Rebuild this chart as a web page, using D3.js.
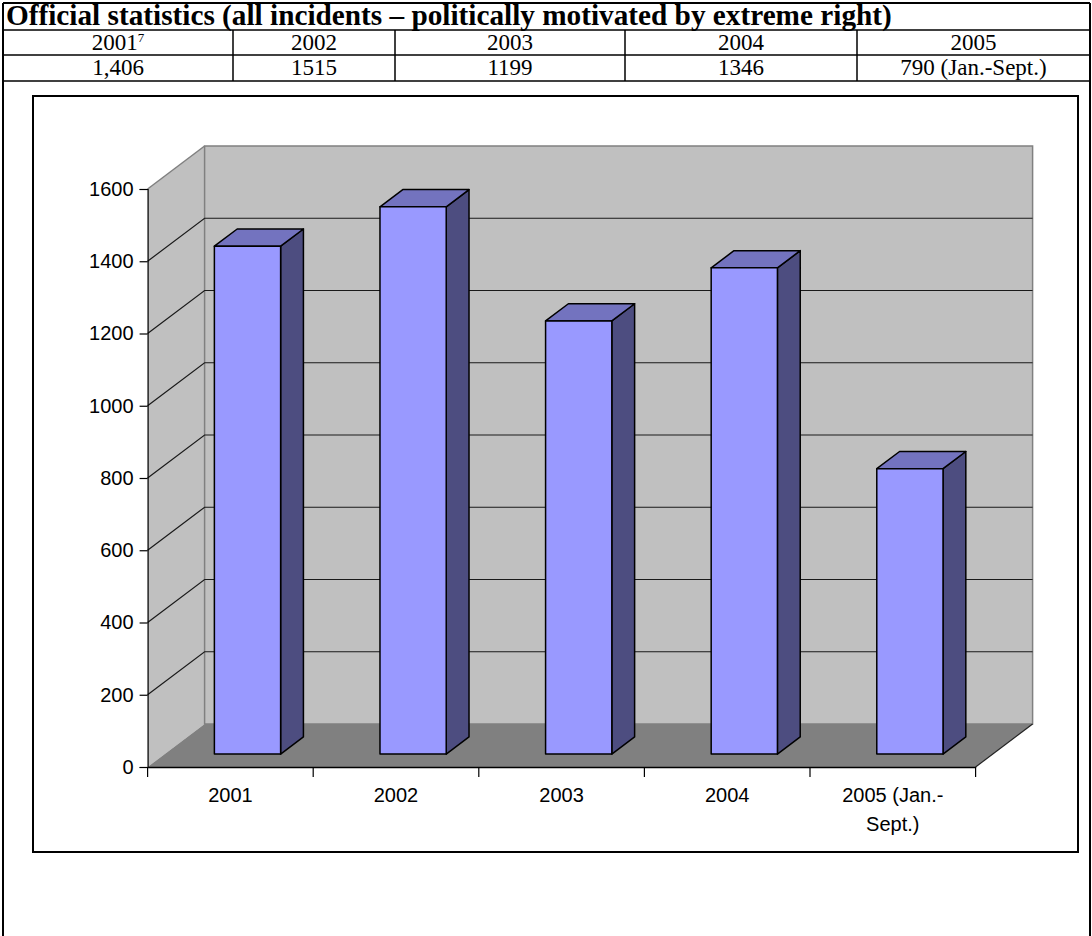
<!DOCTYPE html>
<html>
<head>
<meta charset="utf-8">
<script src="https://cdn.jsdelivr.net/npm/d3@7"></script>
<style>
  html, body { margin: 0; padding: 0; background: #fff; }
  svg { display: block; }
</style>
</head>
<body>
<svg id="chart" width="1092" height="936"></svg>
<script>
// Table contents
const tableTitle = "Official statistics (all incidents \u2013 politically motivated by extreme right)";
const tableYears = ["2001", "2002", "2003", "2004", "2005"];
const tableValues = ["1,406", "1515", "1199", "1346", "790 (Jan.-Sept.)"];

// Chart data
const categories = ["2001", "2002", "2003", "2004", "2005 (Jan.-Sept.)"];
const categoryLabels = [["2001"], ["2002"], ["2003"], ["2004"], ["2005 (Jan.-", "Sept.)"]];
const incidents = [1406, 1515, 1199, 1346, 790];
const yTicks = [0, 200, 400, 600, 800, 1000, 1200, 1400, 1600];

const svg = d3.select("#chart");

// ---------- table ----------
const T = { left: 3, right: 1090, top: 3, rows: [30, 55, 81], bottom: 936 };
const colEdges = [T.left, 233, 395, 625, 857, T.right];

const tbl = svg.append("g").attr("class", "table");
const line = (x1, y1, x2, y2, w) => tbl.append("line")
  .attr("x1", x1).attr("y1", y1).attr("x2", x2).attr("y2", y2)
  .attr("stroke", "#000").attr("stroke-width", w);

line(T.left, T.top, T.right, T.top, 2);
T.rows.forEach(y => line(T.left, y, T.right, y, 1.5));
line(T.left, T.top, T.left, T.bottom, 2);
line(T.right, T.top, T.right, T.bottom, 2);
colEdges.slice(1, -1).forEach(x => line(x, T.rows[0], x, T.rows[2], 1.5));

const serif = "'Liberation Serif', 'Times New Roman', serif";
const titleText = tbl.append("text")
  .attr("x", 6).attr("y", 25)
  .attr("font-family", serif)
  .attr("font-weight", "bold").attr("font-size", 21)
  .text(tableTitle);
// title set in a size that runs it across the cell
const tw = titleText.node().getComputedTextLength();
titleText.attr("font-size", 21 * 886 / tw);

tableYears.forEach((yr, i) => {
  const cx = (colEdges[i] + colEdges[i + 1]) / 2;
  const t = tbl.append("text")
    .attr("x", cx).attr("y", 50)
    .attr("text-anchor", "middle")
    .attr("font-family", serif).attr("font-size", 23);
  t.append("tspan").text(yr);
  if (i === 0) {
    t.append("tspan").attr("font-size", 13).attr("dy", -8).text("7");
  }
});
tableValues.forEach((v, i) => {
  const cx = (colEdges[i] + colEdges[i + 1]) / 2;
  tbl.append("text")
    .attr("x", cx).attr("y", 75)
    .attr("text-anchor", "middle")
    .attr("font-family", serif).attr("font-size", 23)
    .text(v);
});

// ---------- chart frame ----------
svg.append("rect")
  .attr("x", 33).attr("y", 96).attr("width", 1045).attr("height", 756)
  .attr("fill", "#fff").attr("stroke", "#000").attr("stroke-width", 2);

// ---------- 3D column chart ----------
const x = d3.scaleBand().domain(categories).range([147.6, 975.6]).paddingInner(0).paddingOuter(0);
const y = d3.scaleLinear().domain([0, 1600]).range([767, 189]);
const DX = 57, DY = -43;             // projection of full depth
const barWidth = x.bandwidth() / 2.5; // gap width 150%
const dFront = 0.3, dBack = 0.7;      // bar depth position (gap depth 150%)

const pt = (px, py, d) => [px + d * DX, py + d * DY];
const poly = pts => "M" + pts.map(p => p.join(",")).join("L") + "Z";

const xL = x.range()[0], xR = x.range()[1];
const y0 = y(0), yTop = y(1600);

const walls = svg.append("g").attr("class", "walls");
// side wall
walls.append("path")
  .attr("d", poly([pt(xL, yTop, 0), pt(xL, yTop, 1), pt(xL, y0, 1), pt(xL, y0, 0)]))
  .attr("fill", "#c0c0c0");
// back wall
walls.append("path")
  .attr("d", poly([pt(xL, yTop, 1), pt(xR, yTop, 1), pt(xR, y0, 1), pt(xL, y0, 1)]))
  .attr("fill", "#c0c0c0").attr("stroke", "#808080").attr("stroke-width", 1.5);
// floor
walls.append("path")
  .attr("d", poly([pt(xL, y0, 0), pt(xL, y0, 1), pt(xR, y0, 1), pt(xR, y0, 0)]))
  .attr("fill", "#808080");
// side wall top edge
walls.append("line")
  .attr("x1", xL).attr("y1", yTop).attr("x2", xL + DX).attr("y2", yTop + DY)
  .attr("stroke", "#808080").attr("stroke-width", 1.5);
// floor right edge
walls.append("line")
  .attr("x1", xR).attr("y1", y0).attr("x2", xR + DX).attr("y2", y0 + DY)
  .attr("stroke", "#222").attr("stroke-width", 1.2);

// gridlines on side and back walls
const gridVals = yTicks.filter(v => v > 0 && v < 1600);
const grid = svg.append("g").attr("class", "grid");
gridVals.forEach(v => {
  const a = pt(xL, y(v), 0), b = pt(xL, y(v), 1), c = pt(xR, y(v), 1);
  grid.append("path")
    .attr("d", `M${a}L${b}L${c}`)
    .attr("fill", "none").attr("stroke", "#1a1a1a").attr("stroke-width", 1.2);
});

// columns
const bars = svg.append("g").attr("class", "bars")
  .selectAll("g").data(categories.map((c, i) => ({ c, v: incidents[i] })))
  .join("g");

bars.each(function (d) {
  const g = d3.select(this);
  const bx0 = x(d.c) + (x.bandwidth() - barWidth) / 2;
  const bx1 = bx0 + barWidth;
  const yt = y(d.v), yb = y(0);
  // right side face
  g.append("path")
    .attr("d", poly([pt(bx1, yt, dFront), pt(bx1, yt, dBack), pt(bx1, yb, dBack), pt(bx1, yb, dFront)]))
    .attr("fill", "#4d4d80").attr("stroke", "#000").attr("stroke-width", 1.5).attr("stroke-linejoin", "round");
  // top face
  g.append("path")
    .attr("d", poly([pt(bx0, yt, dFront), pt(bx1, yt, dFront), pt(bx1, yt, dBack), pt(bx0, yt, dBack)]))
    .attr("fill", "#7373bf").attr("stroke", "#000").attr("stroke-width", 1.5).attr("stroke-linejoin", "round");
  // front face
  g.append("path")
    .attr("d", poly([pt(bx0, yt, dFront), pt(bx1, yt, dFront), pt(bx1, yb, dFront), pt(bx0, yb, dFront)]))
    .attr("fill", "#9999ff").attr("stroke", "#000").attr("stroke-width", 1.5).attr("stroke-linejoin", "round");
});

// ---------- axes ----------
const sans = "'Liberation Sans', Arial, sans-serif";
const yAxis = svg.append("g").attr("transform", `translate(${xL},0)`)
  .call(d3.axisLeft(y).tickValues(yTicks).tickSize(8).tickPadding(6).tickFormat(d3.format("d")));
yAxis.select(".domain").attr("stroke", "#000").attr("stroke-width", 1.2);
yAxis.selectAll(".tick line").attr("stroke", "#000").attr("stroke-width", 1.2);
yAxis.selectAll(".tick text").attr("font-family", sans).attr("font-size", 20).attr("fill", "#000");

const xAxis = svg.append("g").attr("transform", `translate(0,${y0})`)
  .call(d3.axisBottom(x).tickSize(0).tickFormat(() => ""));
xAxis.select(".domain").attr("stroke", "#000").attr("stroke-width", 1.5);
// category boundary ticks
const bounds = categories.map(c => x(c)).concat([xR]);
xAxis.selectAll(".bound").data(bounds).join("line")
  .attr("class", "bound")
  .attr("x1", d => d).attr("x2", d => d).attr("y1", 0).attr("y2", 10)
  .attr("stroke", "#000").attr("stroke-width", 1.2);

// category labels
const labels = svg.append("g").attr("class", "xlabels");
categories.forEach((c, i) => {
  const t = labels.append("text")
    .attr("x", x(c) + x.bandwidth() / 2).attr("y", 802)
    .attr("text-anchor", "middle")
    .attr("font-family", sans).attr("font-size", 20).attr("fill", "#000");
  categoryLabels[i].forEach((ln, j) => {
    t.append("tspan").attr("x", x(c) + x.bandwidth() / 2).attr("dy", j === 0 ? 0 : 29).text(ln);
  });
});
</script>
</body>
</html>
